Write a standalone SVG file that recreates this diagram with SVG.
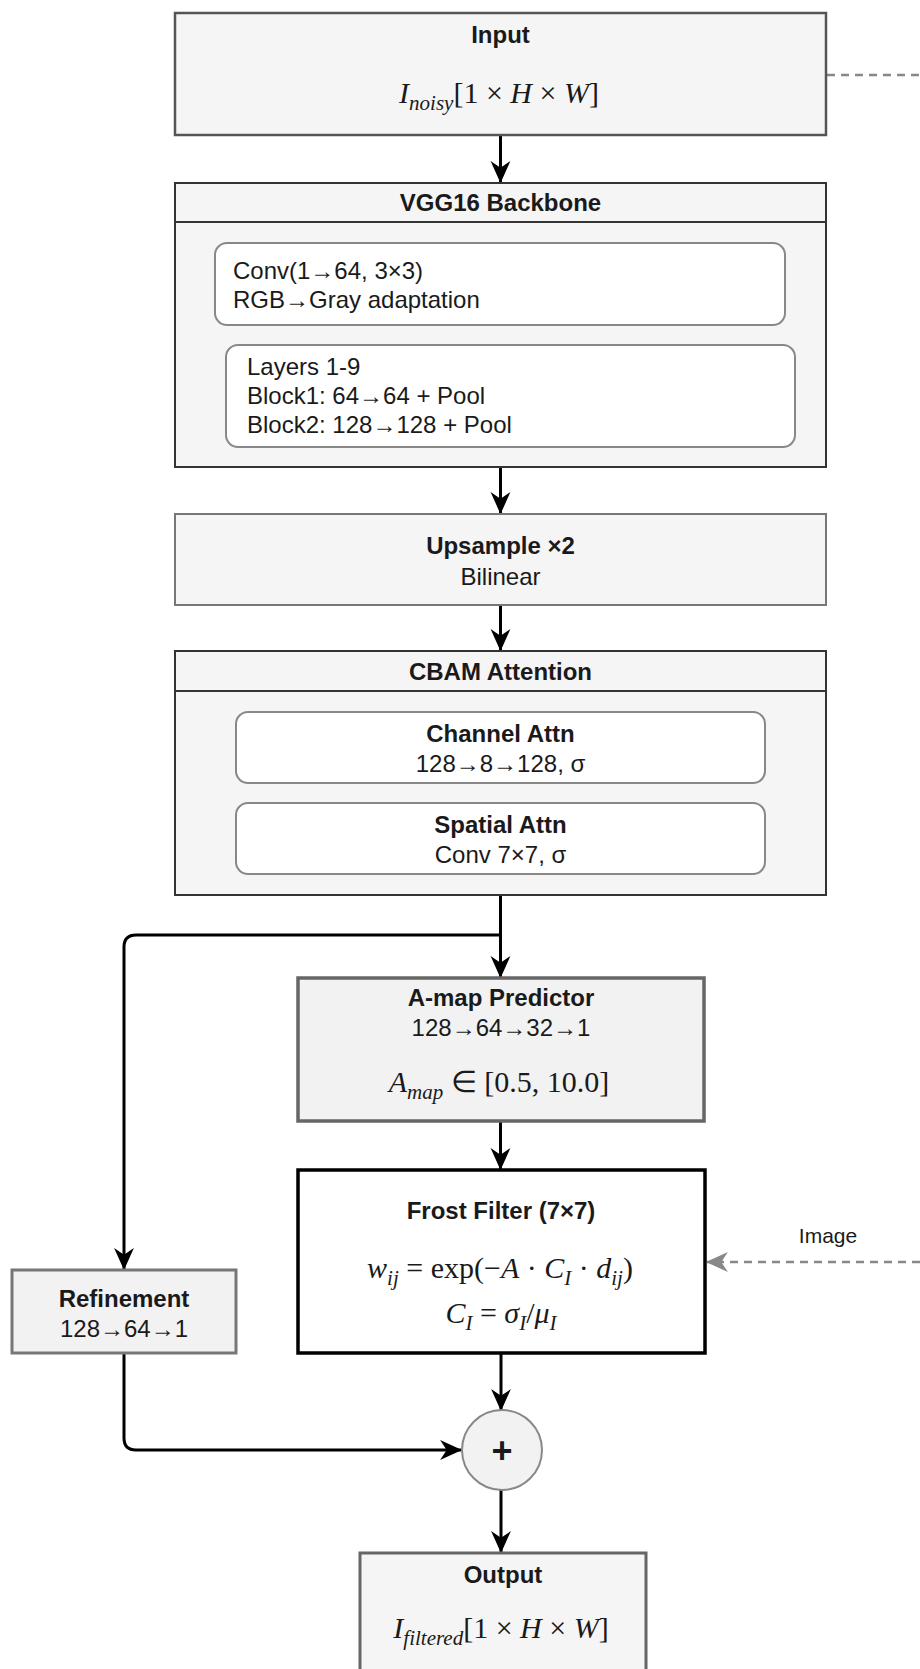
<svg xmlns="http://www.w3.org/2000/svg" width="920" height="1669" viewBox="0 0 920 1669">
<defs>
<style>
.t{font-family:"Liberation Sans",Arial,sans-serif;font-size:24px;fill:#1a1a1a}
.b{font-weight:bold}
.m{font-family:"Liberation Serif","Times New Roman",serif;font-size:30px;fill:#1a1a1a}
.i{font-style:italic}
.s{font-size:21px}
.conn{fill:none;stroke:#000;stroke-width:3}
.dash{fill:none;stroke:#888;stroke-width:2.5;stroke-dasharray:8 6}
.outer{fill:#f5f5f5;stroke:#333;stroke-width:2}
.inner{fill:#fff;stroke:#888;stroke-width:2}
</style>
<marker id="ah" markerUnits="userSpaceOnUse" markerWidth="22" markerHeight="22" viewBox="0 0 20 20" refX="19" refY="10" orient="auto">
<path d="M0,1 L20,10 L0,19 L6,10 z" fill="#000"/>
</marker>
<marker id="ahg" markerUnits="userSpaceOnUse" markerWidth="22" markerHeight="22" viewBox="0 0 20 20" refX="19" refY="10" orient="auto">
<path d="M0,1 L20,10 L0,19 L6,10 z" fill="#888"/>
</marker>
</defs>
<rect width="920" height="1669" fill="#fff"/>

<g id="connectors">
<line class="conn" x1="500.5" y1="135" x2="500.5" y2="182" marker-end="url(#ah)"/>
<line class="conn" x1="500.5" y1="467" x2="500.5" y2="513" marker-end="url(#ah)"/>
<line class="conn" x1="500.5" y1="605" x2="500.5" y2="650" marker-end="url(#ah)"/>
<line class="conn" x1="500.5" y1="895" x2="500.5" y2="977" marker-end="url(#ah)"/>
<path class="conn" d="M500.5,935 L136,935 Q124,935 124,947 L124,1269" marker-end="url(#ah)"/>
<line class="conn" x1="500.5" y1="1121" x2="500.5" y2="1169" marker-end="url(#ah)"/>
<line class="conn" x1="501" y1="1353" x2="501" y2="1410" marker-end="url(#ah)"/>
<path class="conn" d="M124,1353 L124,1438 Q124,1450 136,1450 L461,1450" marker-end="url(#ah)"/>
<line class="conn" x1="501" y1="1490" x2="501" y2="1552" marker-end="url(#ah)"/>
<line class="dash" x1="827" y1="75" x2="920" y2="75"/>
<line class="dash" x1="920" y1="1262" x2="707" y2="1262" marker-end="url(#ahg)"/>
<text class="t" x="828" y="1243" text-anchor="middle" style="font-size:21px">Image</text>
</g>

<g id="input">
<rect x="175" y="13" width="651" height="122" fill="#f5f5f5" stroke="#555" stroke-width="2.5"/>
<text class="t b" x="500.5" y="43" text-anchor="middle">Input</text>
<text class="m" x="499" y="103" text-anchor="middle"><tspan class="i">I</tspan><tspan class="i s" dy="7">noisy</tspan><tspan dy="-7">[1 × </tspan><tspan class="i">H</tspan> × <tspan class="i">W</tspan>]</text>
</g>

<g id="vgg16">
<rect class="outer" x="175" y="183" width="651" height="284"/>
<line x1="175" y1="222" x2="826" y2="222" stroke="#333" stroke-width="2"/>
<text class="t b" x="500.5" y="211" text-anchor="middle">VGG16 Backbone</text>
<rect class="inner" x="215" y="243" width="570" height="82" rx="12"/>
<text class="t" x="233" y="279">Conv(1→64, 3×3)</text>
<text class="t" x="233" y="308">RGB→Gray adaptation</text>
<rect class="inner" x="226" y="345" width="569" height="102" rx="12"/>
<text class="t" x="247" y="375">Layers 1-9</text>
<text class="t" x="247" y="404">Block1: 64→64 + Pool</text>
<text class="t" x="247" y="433">Block2: 128→128 + Pool</text>
</g>

<g id="upsample">
<rect x="175" y="514" width="651" height="91" fill="#f5f5f5" stroke="#777" stroke-width="2"/>
<text class="t b" x="500.5" y="554" text-anchor="middle">Upsample ×2</text>
<text class="t" x="500.5" y="585" text-anchor="middle">Bilinear</text>
</g>

<g id="cbam">
<rect class="outer" x="175" y="651" width="651" height="244"/>
<line x1="175" y1="691" x2="826" y2="691" stroke="#333" stroke-width="2"/>
<text class="t b" x="500.5" y="680" text-anchor="middle">CBAM Attention</text>
<rect class="inner" x="236" y="712" width="529" height="71" rx="12"/>
<text class="t b" x="500.5" y="742" text-anchor="middle">Channel Attn</text>
<text class="t" x="500.5" y="772" text-anchor="middle">128→8→128, σ</text>
<rect class="inner" x="236" y="803" width="529" height="71" rx="12"/>
<text class="t b" x="500.5" y="833" text-anchor="middle">Spatial Attn</text>
<text class="t" x="500.5" y="863" text-anchor="middle">Conv 7×7, σ</text>
</g>

<g id="amap">
<rect x="298" y="978" width="406" height="143" fill="#f2f2f2" stroke="#666" stroke-width="3.5"/>
<text class="t b" x="501" y="1006" text-anchor="middle">A-map Predictor</text>
<text class="t" x="501" y="1036" text-anchor="middle">128→64→32→1</text>
<text class="m" x="499" y="1092" text-anchor="middle"><tspan class="i">A</tspan><tspan class="i s" dy="7">map</tspan><tspan dy="-7"> ∈ [0.5, 10.0]</tspan></text>
</g>

<g id="frost">
<rect x="298" y="1170" width="407" height="183" fill="#fff" stroke="#000" stroke-width="3.5"/>
<text class="t b" x="501" y="1219" text-anchor="middle">Frost Filter (7×7)</text>
<text class="m" x="500" y="1278" text-anchor="middle"><tspan class="i">w</tspan><tspan class="i s" dy="7">ij</tspan><tspan dy="-7"> = exp(−</tspan><tspan class="i">A</tspan> · <tspan class="i">C</tspan><tspan class="i s" dy="7">I</tspan><tspan dy="-7"> · </tspan><tspan class="i">d</tspan><tspan class="i s" dy="7">ij</tspan><tspan dy="-7">)</tspan></text>
<text class="m" x="501" y="1323" text-anchor="middle"><tspan class="i">C</tspan><tspan class="i s" dy="7">I</tspan><tspan dy="-7"> = </tspan><tspan class="i">σ</tspan><tspan class="i s" dy="7">I</tspan><tspan dy="-7">/</tspan><tspan class="i">μ</tspan><tspan class="i s" dy="7">I</tspan></text>
</g>

<g id="refinement">
<rect x="12" y="1270" width="224" height="83" fill="#f2f2f2" stroke="#777" stroke-width="3"/>
<text class="t b" x="124" y="1307" text-anchor="middle">Refinement</text>
<text class="t" x="124" y="1337" text-anchor="middle">128→64→1</text>
</g>

<g id="sum">
<circle cx="502" cy="1450" r="40" fill="#f2f2f2" stroke="#888" stroke-width="2"/>
<text class="t b" x="502" y="1463" text-anchor="middle" style="font-size:36px">+</text>
</g>

<g id="output">
<rect x="360" y="1553" width="286" height="130" fill="#f5f5f5" stroke="#666" stroke-width="3"/>
<text class="t b" x="503" y="1583" text-anchor="middle">Output</text>
<text class="m" x="501" y="1638" text-anchor="middle"><tspan class="i">I</tspan><tspan class="i s" dy="7">filtered</tspan><tspan dy="-7">[1 × </tspan><tspan class="i">H</tspan> × <tspan class="i">W</tspan>]</text>
</g>
</svg>
